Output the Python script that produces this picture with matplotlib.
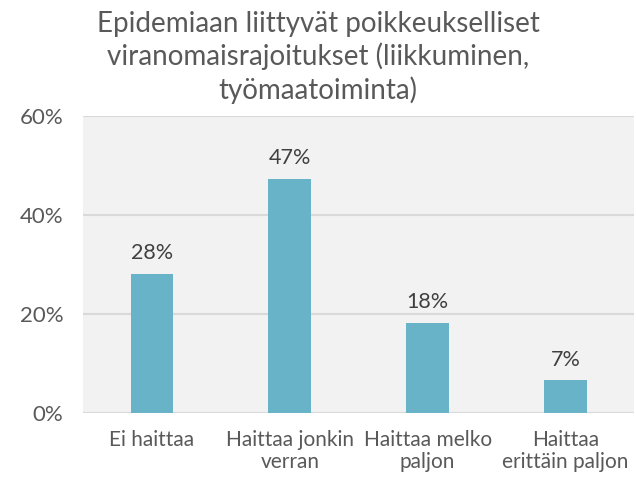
import matplotlib
matplotlib.use("Agg")
import matplotlib.pyplot as plt
from matplotlib.ticker import FuncFormatter

# data
categories = ["Ei haittaa", "Haittaa jonkin\nverran", "Haittaa melko\npaljon", "Haittaa\nerittäin paljon"]
values = [28.2, 47.3, 18.2, 6.6]
title = "Epidemiaan liittyvät poikkeukselliset\nviranomaisrajoitukset (liikkuminen,\ntyömaatoiminta)"

bar_color = "#68b3c8"
text_color = "#595959"

plt.rcParams['font.family'] = ['Lato', 'DejaVu Sans']

fig = plt.figure(figsize=(6.36, 4.82), dpi=100)
ax = fig.add_axes([0.1305, 0.143, 0.867, 0.616])
ax.set_facecolor("#f2f2f2")

x = range(len(categories))
ax.bar(x, values, width=0.31, color=bar_color, zorder=3)
for xi, v in zip(x, values):
	ax.text(xi, v + 2.2, "%d%%" % round(v), ha="center", va="bottom",
			fontsize=15.5, color="#404040")

ax.set_ylim(0, 60)
ax.set_xlim(-0.5, len(categories) - 0.5)
ax.set_yticks([0, 20, 40, 60])
ax.yaxis.set_major_formatter(FuncFormatter(lambda v, p: "%d%%" % v))
ax.grid(axis="y", color="#d9d9d9", linewidth=1.5, zorder=0)
ax.set_xticks(list(x))
ax.set_xticklabels(categories, fontsize=15, color=text_color, linespacing=1.15)
ax.tick_params(axis="y", labelsize=16, labelcolor=text_color, length=0, pad=14)
ax.tick_params(axis="x", length=0, pad=12)
for s in ax.spines.values():
	s.set_visible(False)

fig.text(0.5, 0.978, title, ha="center", va="top", fontsize=20,
		 color=text_color, linespacing=1.27)

fig.savefig("out.png", dpi=100)
